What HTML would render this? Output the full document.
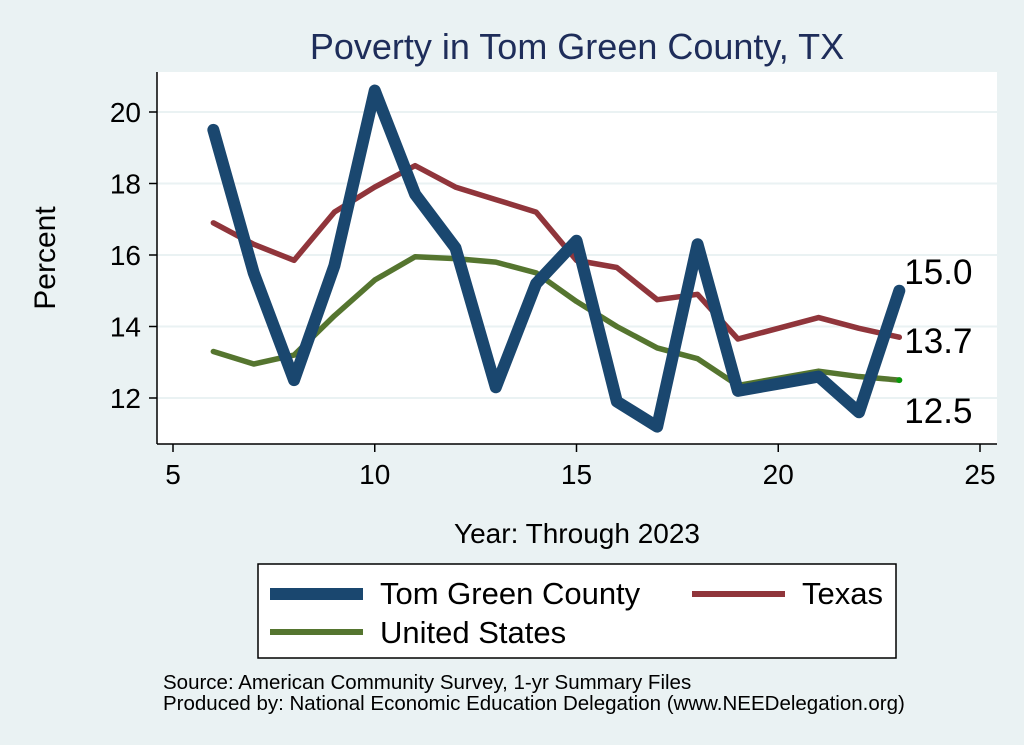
<!DOCTYPE html>
<html><head><meta charset="utf-8"><style>
body{margin:0;background:#eaf2f3;}
svg{display:block;font-family:"Liberation Sans",Arial,sans-serif;}
</style></head><body>
<svg id="chart" width="1024" height="745">
<rect x="0" y="0" width="1024" height="745" fill="#eaf2f3"/>
<text x="577" y="59" text-anchor="middle" font-size="36" fill="#1e2d5a">Poverty in Tom Green County, TX</text>
<rect x="157" y="72" width="840" height="372" fill="#fff"/>
<g id="grid"></g>
<g id="series"></g>
<line x1="157" y1="72" x2="157" y2="444" stroke="#000" stroke-width="1.5"/>
<line x1="157" y1="444" x2="997" y2="444" stroke="#000" stroke-width="1.5"/>
<g id="axes"></g>
<text x="55" y="258" text-anchor="middle" font-size="30" transform="rotate(-90 55 258)">Percent</text>
<text x="577" y="543" text-anchor="middle" font-size="28">Year: Through 2023</text>
<g>
<rect x="258" y="564" width="638" height="94" fill="#fff" stroke="#000" stroke-width="1.5"/>
<line x1="270" y1="594" x2="363" y2="594" stroke="#1a476f" stroke-width="12"/>
<text x="380" y="604" font-size="31">Tom Green County</text>
<line x1="692" y1="594" x2="785" y2="594" stroke="#90353b" stroke-width="6"/>
<text x="802" y="604" font-size="31">Texas</text>
<line x1="270" y1="632" x2="363" y2="632" stroke="#55752f" stroke-width="6"/>
<text x="380" y="643" font-size="31">United States</text>
</g>
<text x="163" y="689" font-size="20.5">Source: American Community Survey, 1-yr Summary Files</text>
<text x="163" y="710" font-size="20.5">Produced by: National Economic Education Delegation (www.NEEDelegation.org)</text>
</svg>
<script>
const years=[6,7,8,9,10,11,12,13,14,15,16,17,18,19,20,21,22,23];
const tomGreen=[19.5,15.5,12.5,15.7,20.6,17.7,16.2,12.3,15.2,16.4,11.9,11.2,16.3,12.2,12.4,12.6,11.6,15.0];
const texas=[16.9,16.3,15.85,17.2,17.9,18.5,17.9,17.55,17.2,15.85,15.65,14.75,14.9,13.65,13.95,14.25,13.95,13.7];
const unitedStates=[13.3,12.95,13.2,14.3,15.3,15.95,15.9,15.8,15.5,14.7,14.0,13.4,13.1,12.35,12.55,12.75,12.6,12.5];
const xTicks=[5,10,15,20,25];
const yTicks=[12,14,16,18,20];
const NS="http://www.w3.org/2000/svg";
function xs(v){return 173+(v-5)*(980-173)/20;}
function ys(v){return 398-(v-12)*(398-112)/8;}
function mk(t,a,p){const e=document.createElementNS(NS,t);for(const k in a)e.setAttribute(k,a[k]);p.appendChild(e);return e;}
const grid=document.getElementById('grid'),axes=document.getElementById('axes'),ser=document.getElementById('series');
yTicks.forEach(v=>{
 const g=mk('line',{x1:157,x2:997,y1:ys(v),y2:ys(v),stroke:'#eaf2f3','stroke-width':2},grid);
 
 
 const t=mk('line',{x1:149,x2:157,y1:ys(v),y2:ys(v),stroke:'#000','stroke-width':1.5},axes);
 
 
 const l=mk('text',{x:141,y:ys(v)+10,'text-anchor':'end','font-size':28},axes);l.textContent=v;
 
 
});
xTicks.forEach(v=>{
 const t=mk('line',{x1:xs(v),x2:xs(v),y1:444,y2:452,stroke:'#000','stroke-width':1.5},axes);
 
 
 const l=mk('text',{x:xs(v),y:484,'text-anchor':'middle','font-size':28},axes);l.textContent=v;
 
 
});
function line(vals,color,w,name){
 const p=mk('polyline',{points:vals.map((v,i)=>xs(years[i])+','+ys(v)).join(' '),fill:'none',stroke:color,'stroke-width':w,'stroke-linejoin':'round','stroke-linecap':'round'},ser);
 
 
}
line(unitedStates,'#55752f',5.5,'us-line');
line(texas,'#90353b',5.5,'texas-line');
line(tomGreen,'#1a476f',12,'tom-green-line');
const lx=xs(years[years.length-1]);
const d=mk('circle',{cx:lx,cy:ys(unitedStates[unitedStates.length-1]),r:3,fill:'#0a9a0a'},ser);


[[tomGreen,-7,'end-label-tom-green'],[texas,16,'end-label-texas'],[unitedStates,43,'end-label-us']].forEach(([a,dy,n])=>{
 const v=a[a.length-1];
 const t=mk('text',{x:lx+5,y:ys(v)+dy,'font-size':35},ser);t.textContent=v.toFixed(1);
 
 
});
</script>
</body></html>
